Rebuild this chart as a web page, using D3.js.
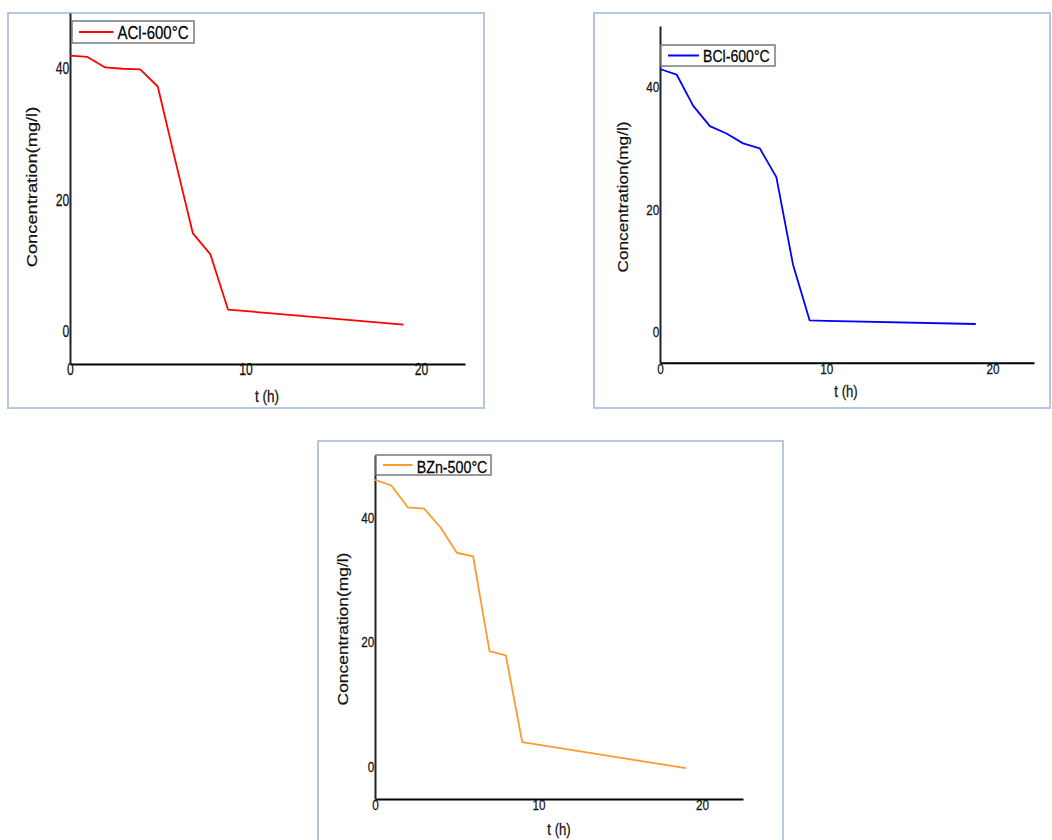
<!DOCTYPE html>
<html>
<head>
<meta charset="utf-8">
<script src="https://cdn.jsdelivr.net/npm/d3@7/dist/d3.min.js"></script>
<style>
  body { margin: 0; background: #fff; }
  svg { display: block; font-family: "Liberation Sans", Arial, sans-serif; }
  text { stroke-width: 0.25px; }
</style>
</head>
<body>
<div id="chart"></div>
<script>
// data
var xTicks = [0, 10, 20];
var yTicks = [0, 20, 40];

var timeA = [0, 1, 2, 3, 4, 5, 6, 7, 8, 9, 19];
var concA = [42.0, 41.8, 40.2, 40.0, 39.9, 37.3, 26.0, 14.9, 11.7, 3.3, 1.0];

var timeB = [0, 1, 2, 3, 4, 5, 6, 7, 8, 9, 10, 19];
var concB = [42.8, 41.9, 36.8, 33.5, 32.3, 30.7, 29.9, 25.2, 11.0, 1.9, 1.8, 1.3];

var timeC = [0, 1, 2, 3, 4, 5, 6, 7, 8, 9, 19];
var concC = [46.0, 45.1, 41.6, 41.4, 38.4, 34.3, 33.7, 18.5, 17.8, 3.9, -0.3];

var names = ["ACl-600°C", "BCl-600°C", "BZn-500°C"];
var colors = ["#ff0000", "#0000ff", "#ff9933"];

// panel layout (pixels of the page)
var panels = [
  { t: timeA, c: concA, frame: [8, 13, 476, 395], xr: [70, 465], yr: [364, 13], yd: [-5, 48.5],
    leg: [72, 21, 122, 22], legText: [117.5, 38.7], fs: 16, lfs: 18.3, xts: 16.5, yts: 18.3,
    xt: [267, 402], yt: [32, 187] },
  { t: timeB, c: concB, frame: [594, 13, 456, 395], xr: [660, 1034], yr: [362.7, 26], yd: [-5, 49.8],
    leg: [661, 45, 114, 21], legText: [703, 61.7], fs: 15.5, lfs: 17.2, xts: 16, yts: 17.2,
    xt: [846, 397], yt: [623, 197] },
  { t: timeC, c: concC, frame: [318, 441, 465, 410], xr: [375, 743], yr: [799, 455], yd: [-5.25, 50],
    leg: [376, 455, 115, 20], legText: [416.7, 472.7], fs: 15.5, lfs: 17.4, xts: 16, yts: 17.4,
    xt: [559, 835], yt: [343, 629] }
];

var sx = 0.76; // glyphs in the picture are narrow

var svg = d3.select("#chart").append("svg")
  .attr("width", 1052)
  .attr("height", 840);

panels.forEach(function (p, i) {
  var g = svg.append("g");

  g.append("rect")
    .attr("x", p.frame[0]).attr("y", p.frame[1])
    .attr("width", p.frame[2]).attr("height", p.frame[3])
    .attr("fill", "none")
    .attr("stroke", "#b7c7e3")
    .attr("stroke-width", 2);

  var x = d3.scaleLinear().domain([0, 22.5]).range(p.xr);
  var y = d3.scaleLinear().domain(p.yd).range(p.yr);

  var xAxis = g.append("g")
    .attr("transform", "translate(0," + p.yr[0] + ")")
    .call(d3.axisBottom(x).tickValues(xTicks).tickSize(0).tickSizeOuter(0).tickPadding(0));
  xAxis.select(".domain").attr("stroke", "#000").attr("stroke-width", 2);
  xAxis.selectAll("text")
    .attr("font-size", p.fs)
    .attr("font-family", "Liberation Sans, Arial, sans-serif")
    .attr("fill", "#111").attr("stroke", "#111")
    .attr("transform", "scale(" + sx + ",1)");

  var yAxis = g.append("g")
    .attr("transform", "translate(" + p.xr[0] + ",0)")
    .call(d3.axisLeft(y).tickValues(yTicks).tickSize(0).tickSizeOuter(0).tickPadding(1));
  yAxis.select(".domain").attr("stroke", "#222").attr("stroke-width", 2);
  yAxis.selectAll("text")
    .attr("font-size", p.fs)
    .attr("font-family", "Liberation Sans, Arial, sans-serif")
    .attr("fill", "#111").attr("stroke", "#111")
    .attr("transform", "scale(" + sx + ",1)");

  var pts = p.t.map(function (t, j) { return [t, p.c[j]]; });
  var line = d3.line()
    .x(function (d) { return x(d[0]); })
    .y(function (d) { return y(d[1]); });

  g.append("path")
    .datum(pts)
    .attr("d", line)
    .attr("fill", "none")
    .attr("stroke", colors[i])
    .attr("stroke-width", 1.8)
    .attr("stroke-linejoin", "round");

  // legend
  g.append("rect")
    .attr("x", p.leg[0]).attr("y", p.leg[1])
    .attr("width", p.leg[2]).attr("height", p.leg[3])
    .attr("fill", "#fff")
    .attr("stroke", "#7a7a7a")
    .attr("stroke-width", 1.5);
  var ly = p.leg[1] + p.leg[3] / 2;
  g.append("line")
    .attr("x1", p.leg[0] + 7).attr("x2", p.legText[0] - 4)
    .attr("y1", ly).attr("y2", ly)
    .attr("stroke", colors[i])
    .attr("stroke-width", 2);
  g.append("text")
    .attr("transform", "translate(" + p.legText[0] + "," + p.legText[1] + ") scale(0.82,1)")
    .attr("font-size", p.lfs)
    .attr("fill", "#000").attr("stroke", "#000")
    .text(names[i]);

  // axis titles
  g.append("text")
    .attr("transform", "translate(" + p.xt[0] + "," + p.xt[1] + ") scale(0.82,1)")
    .attr("text-anchor", "middle")
    .attr("font-size", p.xts)
    .attr("fill", "#111").attr("stroke", "#111")
    .text("t (h)");

  g.append("text")
    .attr("transform", "translate(" + p.yt[0] + "," + p.yt[1] + ") rotate(-90) scale(1,0.82)")
    .attr("text-anchor", "middle")
    .attr("dominant-baseline", "central")
    .attr("font-size", p.yts)
    .attr("fill", "#111").attr("stroke", "#111")
    .text("Concentration(mg/l)");
});
</script>
</body>
</html>
